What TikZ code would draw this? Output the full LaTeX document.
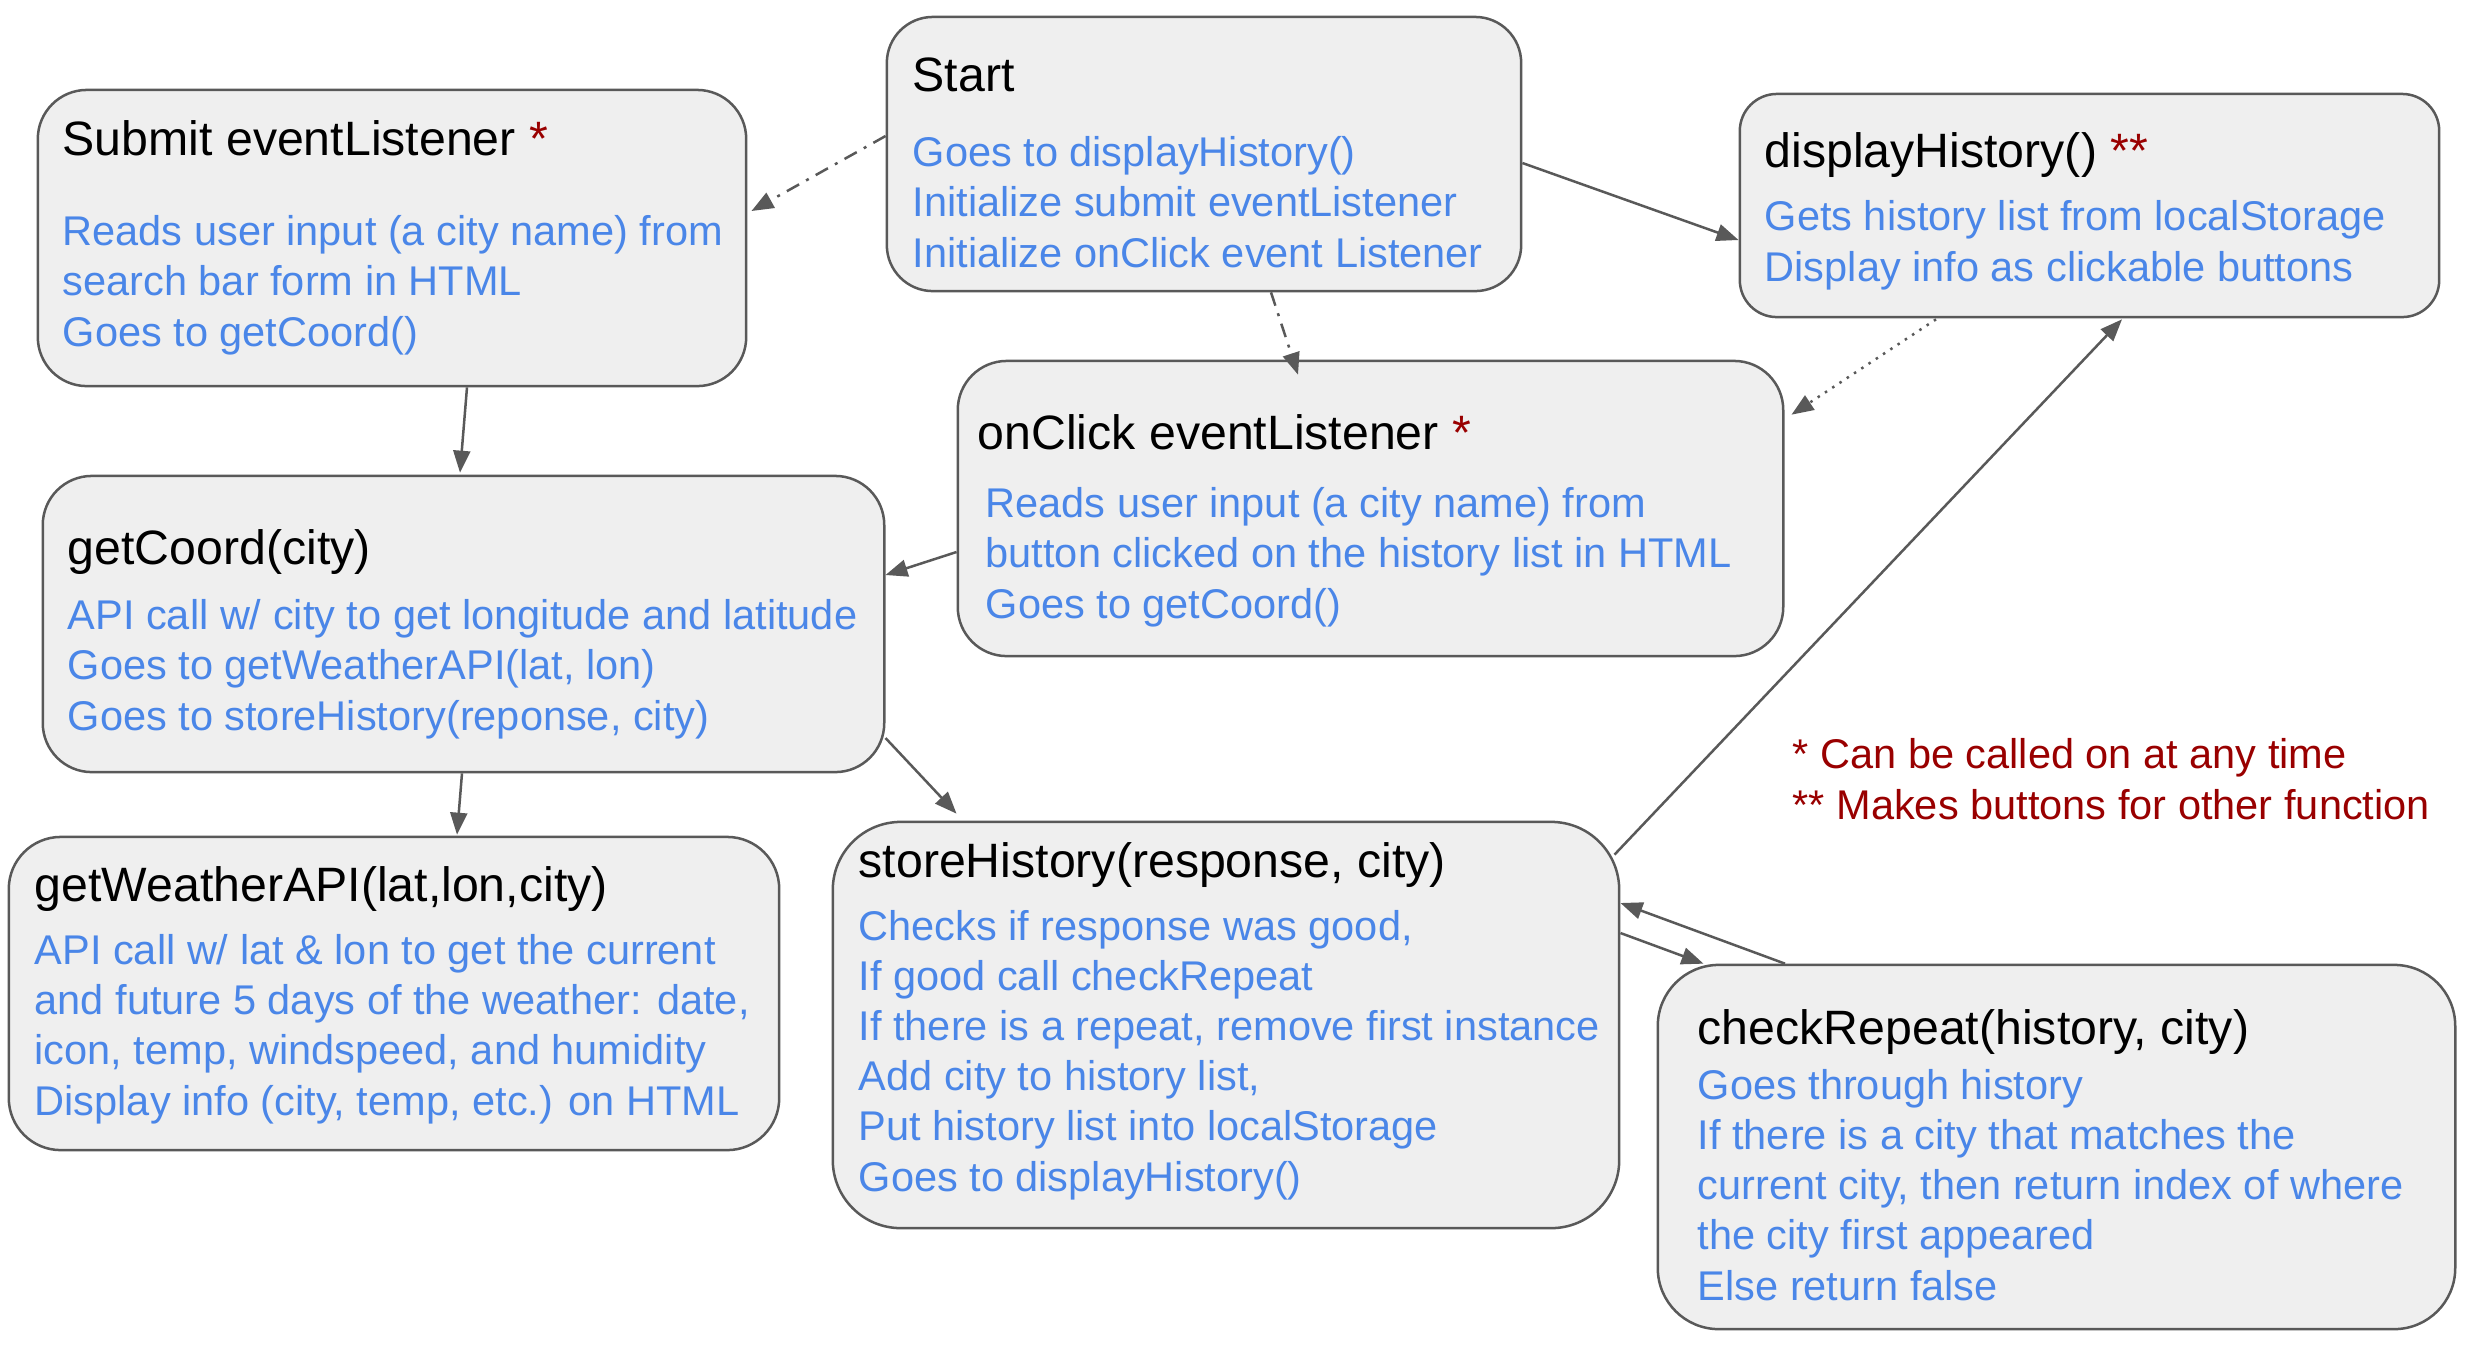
\documentclass[tikz,border=0pt]{standalone}
\usepackage{fontspec}
\setmainfont{Liberation Sans}
\usetikzlibrary{arrows.meta}
\definecolor{flowGray}{RGB}{89,89,89}
\definecolor{flowFill}{RGB}{239,239,239}
\definecolor{flowBlue}{RGB}{74,134,232}
\definecolor{flowRed}{RGB}{153,0,0}
\newcommand{\cardhead}[1]{{\fontsize{13.72pt}{16.4pt}\selectfont\color{black}#1}}
\newcommand{\redstar}[1]{\textcolor{flowRed}{#1}}
\tikzset{
  card/.style={draw=flowGray, line width=0.025cm, fill=flowFill, rounded corners=#1, inner sep=0pt},
  card/.default=0.49cm,
  cardtext/.style={anchor=base west, align=left, inner sep=0pt, text=flowBlue,
    font=\fontsize{11.81pt}{14.23pt}\selectfont},
  note/.style={cardtext, text=flowRed},
  flow/.style={-{Triangle[length=0.22cm,width=0.17cm]}, line width=0.025cm, draw=flowGray},
  flowdashdot/.style={flow, dash pattern=on 0.14cm off 0.08cm on 0.03cm off 0.08cm},
  flowdotted/.style={flow, dash pattern=on 0.025cm off 0.062cm}
}
\begin{document}
\begin{tikzpicture}[x=0.01cm, y=-0.01cm]
  \useasboundingbox (0,0) rectangle (2472,1356);
  \node[card=0.46cm, minimum width=6.34cm, minimum height=2.74cm] (start) at (1204,154) {};
  \node[card=0.49cm, minimum width=7.08cm, minimum height=2.96cm] (submit) at (392,238) {};
  \node[card=0.37cm, minimum width=6.99cm, minimum height=2.23cm] (display) at (2089.5,205.5) {};
  \node[card=0.49cm, minimum width=8.25cm, minimum height=2.95cm] (onclick) at (1370.5,508.5) {};
  \node[card=0.49cm, minimum width=8.41cm, minimum height=2.96cm] (coord) at (463.5,624) {};
  \node[card=0.52cm, minimum width=7.70cm, minimum height=3.13cm] (weather) at (394,993.5) {};
  \node[card=0.68cm, minimum width=7.86cm, minimum height=4.06cm] (store) at (1226,1025) {};
  \node[card=0.61cm, minimum width=7.97cm, minimum height=3.64cm] (repeat) at (2056.5,1147) {};

  \node[cardtext] (startText) at (912,267) {\cardhead{Start}\\[7.11pt]
    Goes to displayHistory()\\Initialize submit eventListener\\Initialize onClick event Listener};
  \node[cardtext] (submitText) at (62,346) {\cardhead{Submit eventListener \redstar{*}}\\[11.38pt]
    Reads user input (a city name) from\\search bar form in HTML\\Goes to getCoord()};
  \node[cardtext] (displayText) at (1764,281) {\cardhead{displayHistory() \redstar{**}}\\[3.7pt]
    Gets history list from localStorage\\Display info as clickable buttons};
  \node[cardtext] (onclickText) at (977,618) {\cardhead{onClick eventListener \redstar{*}}\\[5.12pt]
    \hspace*{0.08cm}Reads user input (a city name) from\\
    \hspace*{0.08cm}button clicked on the history list in HTML\\
    \hspace*{0.08cm}Goes to getCoord()};
  \node[cardtext] (coordText) at (67,730) {\cardhead{getCoord(city)}\\[4.41pt]
    API call w/ city to get longitude and latitude\\Goes to getWeatherAPI(lat, lon)\\
    Goes to storeHistory(reponse, city)};
  \node[cardtext] (weatherText) at (34,1115) {\cardhead{getWeatherAPI(lat,lon,city)}\\[3.7pt]
    API call w/ lat \& lon to get the current\\and future 5 days of the weather: date,\\
    icon, temp, windspeed, and humidity\\Display info (city, temp, etc.) on HTML};
  \node[cardtext] (storeText) at (858,1191) {\cardhead{storeHistory(response, city)}\\[3.7pt]
    Checks if response was good,\\If good call checkRepeat\\If there is a repeat, remove first instance\\
    Add city to history list,\\Put history list into localStorage\\Goes to displayHistory()};
  \node[cardtext] (repeatText) at (1697,1300) {\cardhead{checkRepeat(history, city)}\\[1.42pt]
    Goes through history\\If there is a city that matches the\\current city, then return index of where\\
    the city first appeared\\Else return false};
  \node[note] (legend) at (1792,819) {* Can be called on at any time\\** Makes buttons for other function};

  \draw[flowdashdot] ([shift={(0,-18)}]start.west) -- ([shift={(4,-27)}]submit.east);
  \draw[flowdashdot] ([shift={(67,0)}]start.south) -- ([shift={(-72.5,15)}]onclick.north);
  \draw[flow] ([shift={(0,9)}]start.east) -- ([shift={(0,34.5)}]display.west);
  \draw[flowdotted] ([shift={(-153.5,1)}]display.south) -- ([shift={(7,55)}]onclick.north east);
  \draw[flow] ([shift={(75,0)}]submit.south) -- ([shift={(-3.5,-2)}]coord.north);
  \draw[flow] ([shift={(0,43.5)}]onclick.west) -- ([shift={(0,-49)}]coord.east);
  \draw[flow] ([shift={(-1.5,0)}]coord.south) -- ([shift={(63,-1)}]weather.north);
  \draw[flow] ([shift={(0,114)}]coord.east) -- ([shift={(125,-7)}]store.north west);
  \draw[flow] ([shift={(-6,34)}]store.north east) -- ([shift={(32.5,1)}]display.south);
  \draw[flow] ([shift={(-271.5,0)}]repeat.north) -- ([shift={(0,-122)}]store.east);
  \draw[flow] ([shift={(0,-92)}]store.east) -- ([shift={(47,0)}]repeat.north west);
\end{tikzpicture}
\end{document}
